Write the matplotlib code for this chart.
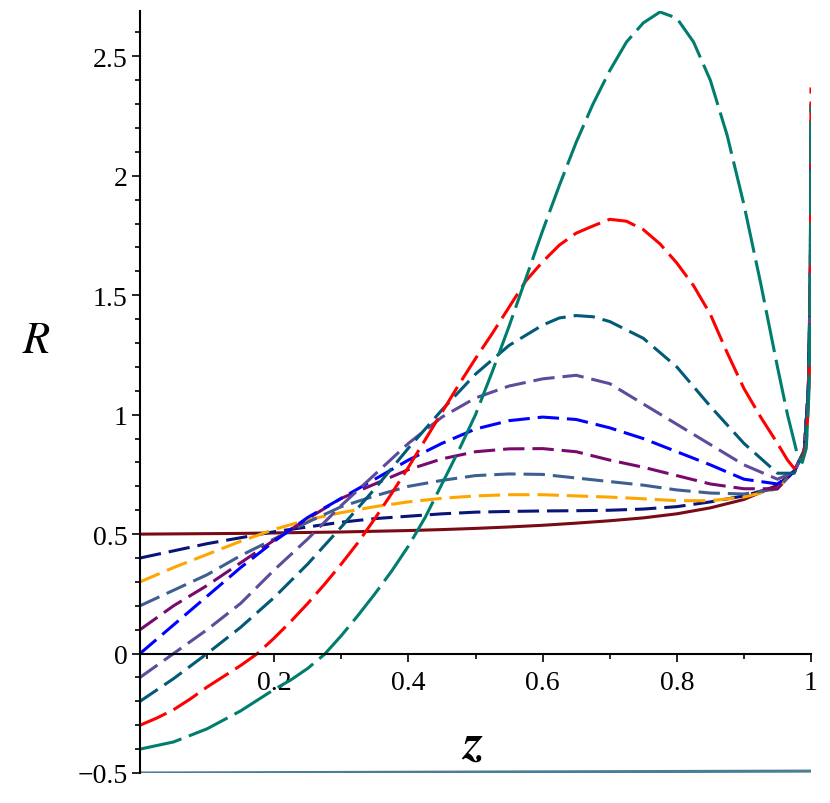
import numpy as np
import matplotlib
matplotlib.use("Agg")
import matplotlib.pyplot as plt
from matplotlib.ticker import MultipleLocator

# sample points along z
z = [0, 0.05, 0.1, 0.15, 0.2, 0.25, 0.3, 0.35, 0.4, 0.45, 0.5, 0.55, 0.6,
     0.65, 0.7, 0.75, 0.8, 0.85, 0.9, 0.95, 0.975, 0.99, 0.996, 0.999, 1.0]

r_darkred = [0.5, 0.501, 0.502, 0.503, 0.505, 0.507, 0.509, 0.512, 0.515, 0.519, 0.524, 0.53, 0.537,
             0.546, 0.556, 0.568, 0.585, 0.61, 0.645, 0.705, 0.765, 0.85, 1.1, 1.5, 2.0]
r_navy = [0.4, 0.43, 0.46, 0.485, 0.51, 0.53, 0.55, 0.565, 0.575, 0.585, 0.592, 0.595, 0.597,
          0.598, 0.6, 0.605, 0.615, 0.635, 0.66, 0.70, 0.765, 0.85, 1.1, 1.5, 2.05]
r_orange = [0.3, 0.36, 0.415, 0.47, 0.52, 0.56, 0.59, 0.615, 0.635, 0.65, 0.66, 0.665, 0.665,
            0.66, 0.655, 0.648, 0.64, 0.64, 0.655, 0.69, 0.765, 0.85, 1.1, 1.5, 2.05]
r_steel = [0.2, 0.265, 0.33, 0.41, 0.48, 0.55, 0.615, 0.66, 0.70, 0.725, 0.745, 0.752, 0.75,
           0.735, 0.72, 0.705, 0.685, 0.672, 0.668, 0.69, 0.765, 0.85, 1.1, 1.5, 2.1]
r_purple = [0.1, 0.2, 0.285, 0.38, 0.475, 0.565, 0.65, 0.71, 0.77, 0.815, 0.845, 0.857, 0.858,
            0.845, 0.81, 0.78, 0.745, 0.71, 0.69, 0.69, 0.765, 0.85, 1.1, 1.5, 2.1]
r_blue = [0.0, 0.12, 0.24, 0.36, 0.47, 0.57, 0.65, 0.73, 0.81, 0.88, 0.94, 0.975, 0.99,
          0.98, 0.945, 0.9, 0.845, 0.79, 0.73, 0.71, 0.76, 0.85, 1.1, 1.6, 2.2]
r_lavender = [-0.1, 0.0, 0.1, 0.21, 0.35, 0.48, 0.62, 0.75, 0.88, 0.99, 1.07, 1.12, 1.15,
              1.165, 1.13, 1.045, 0.96, 0.875, 0.79, 0.73, 0.76, 0.85, 1.1, 1.6, 2.2]

z_darkteal = [0, 0.05, 0.1, 0.15, 0.2, 0.25, 0.3, 0.35, 0.4, 0.45, 0.5, 0.55, 0.6, 0.625, 0.65,
              0.675, 0.7, 0.75, 0.8, 0.85, 0.9, 0.95, 0.975, 0.99, 0.996, 0.999, 1.0]
r_darkteal = [-0.2, -0.105, 0.0, 0.11, 0.235, 0.375, 0.53, 0.69, 0.86, 1.02, 1.17, 1.29, 1.375,
              1.405, 1.415, 1.41, 1.39, 1.32, 1.2, 1.035, 0.88, 0.755, 0.755, 0.85, 1.1, 1.6, 2.3]

z_red = [0, 0.025, 0.05, 0.075, 0.1, 0.125, 0.15, 0.175, 0.2, 0.225, 0.25, 0.275, 0.3, 0.325,
         0.35, 0.375, 0.4, 0.425, 0.45, 0.475, 0.5, 0.525, 0.55, 0.575, 0.6, 0.625, 0.65, 0.675,
         0.7, 0.725, 0.75, 0.775, 0.8, 0.825, 0.85, 0.875, 0.9, 0.925, 0.95, 0.965, 0.975,
         0.985, 0.993, 0.997, 0.999, 1.0]
r_red = [-0.3, -0.27, -0.235, -0.19, -0.14, -0.095, -0.05, 0.0, 0.065, 0.135, 0.21, 0.29, 0.375,
         0.465, 0.565, 0.67, 0.78, 0.895, 1.01, 1.125, 1.235, 1.34, 1.45, 1.56, 1.64, 1.71, 1.76,
         1.79, 1.818, 1.81, 1.775, 1.715, 1.635, 1.54, 1.42, 1.26, 1.11, 0.99, 0.88, 0.81, 0.775,
         0.79, 0.88, 1.1, 1.6, 2.37]

z_green = [0, 0.05, 0.1, 0.15, 0.2, 0.225, 0.25, 0.275, 0.3, 0.325, 0.35, 0.375, 0.4, 0.425,
           0.45, 0.475, 0.5, 0.525, 0.55, 0.575, 0.6, 0.625, 0.65, 0.675, 0.7, 0.725, 0.75,
           0.775, 0.8, 0.825, 0.85, 0.875, 0.9, 0.925, 0.95, 0.965, 0.98, 0.987, 0.993, 0.997,
           0.999, 1.0]
r_green = [-0.4, -0.37, -0.315, -0.24, -0.15, -0.11, -0.062, -0.003, 0.075, 0.16, 0.25, 0.345,
           0.45, 0.57, 0.71, 0.85, 1.0, 1.18, 1.37, 1.57, 1.77, 1.96, 2.14, 2.30, 2.44, 2.56,
           2.64, 2.686, 2.66, 2.56, 2.40, 2.17, 1.88, 1.55, 1.2, 1.0, 0.83, 0.80, 0.86, 1.1,
           1.6, 2.29]

z_bottom = [0, 0.25, 0.5, 0.75, 1.0]
r_bottom = [-0.5, -0.498, -0.496, -0.494, -0.492]

xtick_vals = [0.2, 0.4, 0.6, 0.8, 1.0]
xtick_labels = ["0.2", "0.4", "0.6", "0.8", "1"]
ytick_vals = [-0.5, 0, 0.5, 1, 1.5, 2, 2.5]
ytick_labels = ["\u22120.5", "0", "0.5", "1", "1.5", "2", "2.5"]

plt.rcParams['font.family'] = ['Liberation Serif', 'DejaVu Serif']

fig = plt.figure(figsize=(8.3, 8.04), dpi=100)
ax = fig.add_axes([140 / 830, 30 / 804, 671 / 830, 762 / 804])

lw = 2.2
short_dash = (7, 2.6)

# bottom solid line and dark red solid curve
ax.plot(z_bottom, r_bottom, color="#4a7d96", lw=lw)
ax.plot(z, r_darkred, color="#7a0a14", lw=lw)

# dashed family
dashed = [
    (r_navy, "#0a1478"),
    (r_orange, "#ffa500"),
    (r_steel, "#3d5f91"),
    (r_purple, "#780a6e"),
    (r_blue, "#0000ff"),
    (r_lavender, "#5f4b9b"),
]
for vals, col in dashed:
    ax.plot(z, vals, color=col, lw=lw, dashes=short_dash)

ax.plot(z_darkteal, r_darkteal, color="#005a78", lw=lw, dashes=short_dash)
ax.plot(z_red, r_red, color="#ff0000", lw=lw, dashes=(9.5, 2.6))
ax.plot(z_green, r_green, color="#007d6e", lw=lw, dashes=(14, 2.6))

ax.set_xlim(0, 1)
ax.set_ylim(-0.5, 2.69)

# axes crossing at the origin
for s in ["top", "right"]:
    ax.spines[s].set_visible(False)
ax.spines["left"].set_position(("data", 0))
ax.spines["bottom"].set_position(("data", 0))
ax.spines["left"].set_linewidth(1.5)
ax.spines["bottom"].set_linewidth(1.5)

ax.set_xticks(xtick_vals)
ax.set_xticklabels(xtick_labels)
ax.set_yticks(ytick_vals)
ax.set_yticklabels(ytick_labels)
ax.xaxis.set_minor_locator(MultipleLocator(0.1))
ax.yaxis.set_minor_locator(MultipleLocator(0.1))
ax.tick_params(which="major", direction="out", length=6, width=1.2, labelsize=20)
ax.tick_params(which="minor", direction="out", length=3.5, width=1.2)
ax.tick_params(axis="x", which="major", pad=6)
ax.tick_params(axis="y", which="major", pad=3)

# axis titles in a Times-like face (STIX ships with matplotlib)
ax.text(-0.155, 1.31, "R", fontsize=32, family="STIXGeneral", style="italic",
        ha="center", va="center", clip_on=False)
ax.text(0.496, -0.38, "z", fontsize=36, family="STIXGeneral", style="italic", weight="bold",
        ha="center", va="center")

fig.savefig("out.png", dpi=100)
